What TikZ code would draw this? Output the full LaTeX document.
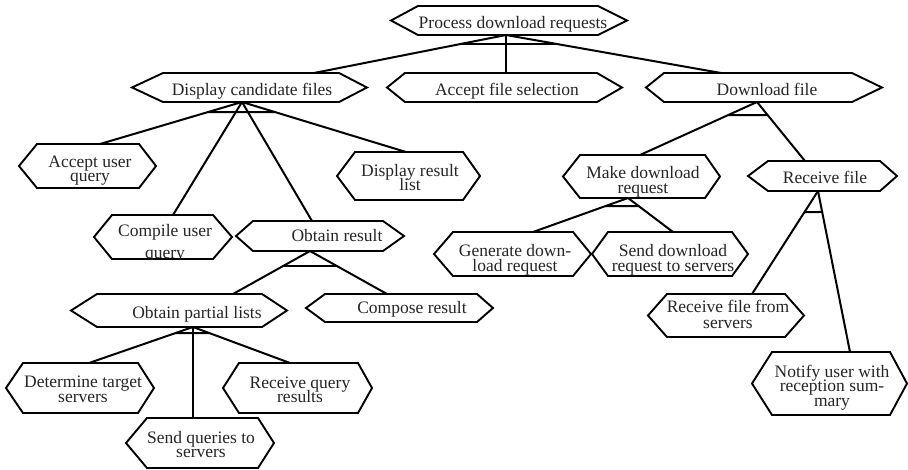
\documentclass[tikz,border=0pt]{standalone}
\usepackage{fontspec}
\setmainfont{Liberation Serif}

% centred lines with a fixed distance between baselines
\newcommand\stackedlines[2][14pt]{\vtop{\baselineskip=#1\relax\lineskiplimit=-100pt\relax\lineskip=0pt\relax\halign{\hfil##\hfil\cr#2\crcr}}}

% hexagon drawn round a box node: #1 node, #2 left point, #3 right point
\newcommand\hexframe[3]{\draw[frame] ([xshift=-#2]#1.west) -- (#1.north west) -- (#1.north east) -- ([xshift=#3]#1.east) -- (#1.south east) -- (#1.south west) -- cycle;}

% AND bar: #1 junction, #2 and #3 outer child points, #4 drop below the junction
\newcommand\andbar[4]{\draw[link]
  (intersection cs: first line={(#1)--(#2)}, second line={([yshift=-#4]#1)--([xshift=10,yshift=-#4]#1)})
  -- (intersection cs: first line={(#1)--(#3)}, second line={([yshift=-#4]#1)--([xshift=10,yshift=-#4]#1)});}

\tikzset{
  box/.style={rectangle, draw=none, inner sep=0pt, outer sep=0pt},
  txt/.style={anchor=base, inner sep=0pt, outer sep=0pt, text=black!85,
    font=\fontsize{17.5}{15}\selectfont},
  frame/.style={draw=black, line width=1.9pt, line join=miter},
  link/.style={draw=black, line width=2pt},
}

\begin{document}
\begin{tikzpicture}[x=1pt, y=-1pt]
\useasboundingbox (0,0) rectangle (908,469);
\fill[white] (0,0) rectangle (908,469);

% ---- boxes (top edge of each hexagon) ----
\node[box, minimum width=180, minimum height=29] (P) at (508,20.5) {};
\node[box, minimum width=176, minimum height=29] (D) at (251,87.5) {};
\node[box, minimum width=192, minimum height=29] (A) at (501,87.5) {};
\node[box, minimum width=188, minimum height=29] (F) at (758,87.5) {};
\node[box, minimum width=102, minimum height=44] (Q) at (88,166) {};
\node[box, minimum width=101, minimum height=44] (C) at (162.5,237) {};
\node[box, minimum width=108, minimum height=48] (L) at (409,176) {};
\node[box, minimum width=130, minimum height=30] (R) at (318,236) {};
\node[box, minimum width=165, minimum height=33] (O) at (179.5,310.5) {};
\node[box, minimum width=152, minimum height=28] (M) at (401,308) {};
\node[box, minimum width=115, minimum height=50] (T) at (80.5,388) {};
\node[box, minimum width=111, minimum height=50] (S) at (202.5,443) {};
\node[box, minimum width=119, minimum height=50] (V) at (298.5,388) {};
\node[box, minimum width=125, minimum height=43] (K) at (642.5,176.5) {};
\node[box, minimum width=120, minimum height=44] (G) at (513,254) {};
\node[box, minimum width=124, minimum height=44] (N) at (670,254) {};
\node[box, minimum width=112, minimum height=30] (E) at (824,176) {};
\node[box, minimum width=118, minimum height=43] (B) at (726,315.5) {};
\node[box, minimum width=118, minimum height=63] (Y) at (831,383.5) {};

% ---- hexagon outlines ----
\hexframe{P}{27}{29}
\hexframe{D}{31}{28}
\hexframe{A}{18}{25}
\hexframe{F}{18}{30}
\hexframe{Q}{18}{17}
\hexframe{C}{18}{19}
\hexframe{L}{18}{17}
\hexframe{R}{17}{21}
\hexframe{O}{26}{25}
\hexframe{M}{19}{16}
\hexframe{T}{17}{16}
\hexframe{S}{21}{16}
\hexframe{V}{16}{14}
\hexframe{K}{17}{15}
\hexframe{G}{19}{18}
\hexframe{N}{16}{16}
\hexframe{E}{20}{17}
\hexframe{B}{19}{19}
\hexframe{Y}{20}{17}

% ---- junction points under the parents ----
\coordinate (Po) at ([xshift=-2]P.south);
\coordinate (Do) at ([xshift=-9]D.south);
\coordinate (Fo) at ([xshift=-1]F.south);
\coordinate (Ko) at ([xshift=-14.5]K.south);
\coordinate (Eo) at ([xshift=-6]E.south);
\coordinate (Ro) at ([xshift=-8]R.south);
\coordinate (Oo) at ([xshift=13.5]O.south);

% ---- decomposition links ----
\draw[link] ([xshift=-2]P.south) -- ([xshift=63]D.north);
\draw[link] ([xshift=-2]P.south) -- ([xshift=5]A.north);
\draw[link] ([xshift=-2]P.south) -- ([xshift=-37]F.north);
\andbar{Po}{[xshift=63]D.north}{[xshift=-37]F.north}{9}

\draw[link] ([xshift=-9]D.south) -- ([xshift=12]Q.north);
\draw[link] ([xshift=-9]D.south) -- ([xshift=10.5]C.north);
\draw[link] ([xshift=-9]D.south) -- ([xshift=-6]R.north);
\draw[link] ([xshift=-9]D.south) -- ([xshift=-3]L.north);
\andbar{Do}{[xshift=12]Q.north}{[xshift=-3]L.north}{10}

\draw[link] ([xshift=-1]F.south) -- ([xshift=-2.5]K.north);
\draw[link] ([xshift=-1]F.south) -- ([xshift=-19]E.north);
\andbar{Fo}{[xshift=-2.5]K.north}{[xshift=-19]E.north}{13}

\draw[link] ([xshift=-14.5]K.south) -- ([xshift=20]G.north);
\draw[link] ([xshift=-14.5]K.south) -- ([xshift=3]N.north);
\andbar{Ko}{[xshift=20]G.north}{[xshift=3]N.north}{8}

\draw[link] ([xshift=-6]E.south) -- ([xshift=26]B.north);
\draw[link] ([xshift=-6]E.south) -- ([xshift=19]Y.north);
\andbar{Eo}{[xshift=26]B.north}{[xshift=19]Y.north}{21}

\draw[link] ([xshift=-8]R.south) -- ([xshift=53.5]O.north);
\draw[link] ([xshift=-8]R.south) -- ([xshift=-14]M.north);
\andbar{Ro}{[xshift=53.5]O.north}{[xshift=-14]M.north}{15}

\draw[link] ([xshift=13.5]O.south) -- ([xshift=8.5]T.north);
\draw[link] ([xshift=13.5]O.south) -- ([xshift=-9.5]S.north);
\draw[link] ([xshift=13.5]O.south) -- ([xshift=-8.5]V.north);
\andbar{Oo}{[xshift=8.5]T.north}{[xshift=-8.5]V.north}{6}

% ---- labels ----
\node[txt] (P-t) at (513,28) {Process download requests};
\node[txt] (D-t) at (252,95) {Display candidate files};
\node[txt] (A-t) at (507,95) {Accept file selection};
\node[txt] (F-t) at (767,95) {Download file};
\node[txt] (Q-t) at (90,167) {\stackedlines[14pt]{Accept user\cr query}};
\begin{scope}
  \clip (C.north west) rectangle (C.south east);
  \node[txt] (C-t) at (165,236) {\stackedlines[22pt]{Compile user\cr query}};
\end{scope}
\node[txt] (L-t) at (410,176) {\stackedlines[14pt]{Display result\cr list}};
\node[txt] (R-t) at (337,241.5) {Obtain result};
\node[txt] (O-t) at (197,318) {Obtain partial lists};
\node[txt] (M-t) at (412,313.5) {Compose result};
\node[txt] (T-t) at (83,387.5) {\stackedlines[14.5pt]{Determine target\cr servers}};
\node[txt] (S-t) at (201,443.5) {\stackedlines[14pt]{Send queries to\cr servers}};
\node[txt] (V-t) at (300,388.5) {\stackedlines[14pt]{Receive query\cr results}};
\node[txt] (K-t) at (643,178.5) {\stackedlines[15pt]{Make download\cr request}};
\node[txt] (G-t) at (515,256) {\stackedlines[15pt]{Generate down-\cr load request}};
\node[txt] (N-t) at (673,256) {\stackedlines[15pt]{Send download\cr request to servers}};
\node[txt] (E-t) at (825,183.5) {Receive file};
\node[txt] (B-t) at (728,312.5) {\stackedlines[16pt]{Receive file from\cr servers}};
\node[txt] (Y-t) at (832,377) {\stackedlines[14.5pt]{Notify user with\cr reception sum-\cr mary}};
\end{tikzpicture}
\end{document}
